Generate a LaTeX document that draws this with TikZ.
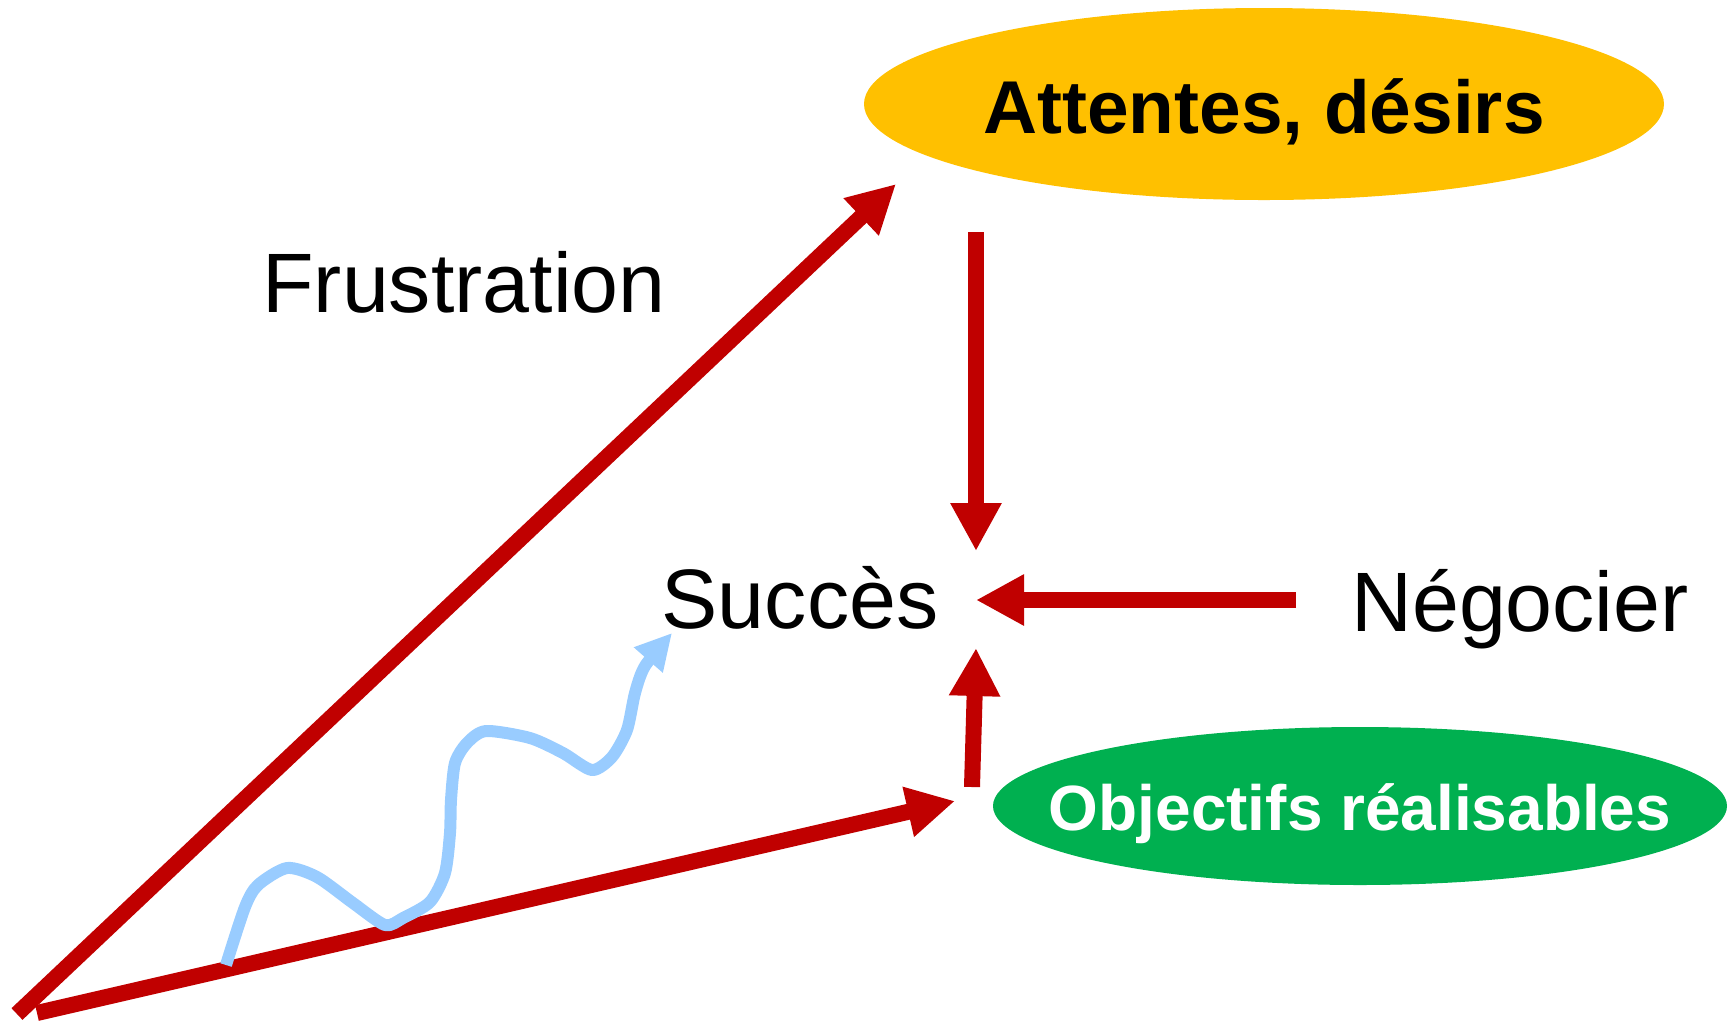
\documentclass[tikz,border=0pt]{standalone}
\usepackage{fontspec}
\setmainfont{Liberation Sans}
\usepackage{tikz}
\usetikzlibrary{arrows.meta}
\usetikzlibrary{shapes.geometric}
\definecolor{arrowred}{HTML}{C00000}
\definecolor{pathblue}{HTML}{99CCFF}
\definecolor{wishyellow}{HTML}{FFC000}
\definecolor{goalgreen}{HTML}{00B050}
\tikzstyle{redarrow}=[draw=arrowred,line width=1.6mm,-{Triangle[width=4.8mm,length=4.8mm]}]
\tikzstyle{bluearrow}=[draw=pathblue,line width=1.2mm,line join=round,-{Triangle[width=3.6mm,length=3.6mm]}]
\tikzstyle{bubble}=[ellipse,inner sep=0pt]
\tikzstyle{word}=[anchor=base,inner sep=0pt,font=\fontsize{24}{28}\selectfont]
\tikzstyle{boldword}=[anchor=base,inner sep=0pt,font=\bfseries]

\begin{document}
\begin{tikzpicture}[x=0.1mm,y=-0.1mm]
    \useasboundingbox (0,0) rectangle (1735,1020);

      \node[bubble,fill=wishyellow,minimum width=80mm,minimum height=19.2mm] (wish) at (1264,104) {};
      \node[bubble,fill=goalgreen,minimum width=73.4mm,minimum height=15.8mm] (goal) at (1360,806) {};
      \node[boldword,font=\bfseries\fontsize{21.3}{25}\selectfont] (wishT) at (1264,133) {Attentes, désirs};
      \node[boldword,text=white,font=\bfseries\fontsize{18.2}{22}\selectfont] (goalT) at (1360,830) {Objectifs réalisables};

      \node[word] (frus) at (464,312) {Frustration};
      \node[word] (succ) at (800,628) {Succès};
      \node[word] (nego) at (1520,631) {Négocier};

      % arrow ends
      \coordinate (f0) at (17,1014);
      \coordinate (f1) at (896,184);
      \coordinate (r0) at (37,1013);
      \coordinate (r1) at (955,801);
      \coordinate (d0) at (976,232);
      \coordinate (d1) at (976,551);
      \coordinate (n0) at (1296,600);
      \coordinate (n1) at (976,600);
      \coordinate (u0) at (972,787);
      \coordinate (u1) at (976,648);

      \foreach \u in {f,r,d,n,u}{
        \draw[redarrow] (\u0) to (\u1);
      }

      % the way up
      \coordinate (w0) at (226,965);
      \coordinate (w1) at (672,633);
      \draw[bluearrow] plot[smooth,tension=0.45] coordinates {(w0) (245,907) (258,885) (287,868) (317,877)
        (353,903) (385,925) (403,918) (430,902) (445,873) (450,833) (451,800) (455,763) (467,743)
        (486,731) (530,738) (563,753) (592,770) (612,757) (627,730) (635,693) (645,666) (w1)};
\end{tikzpicture}
\end{document}
